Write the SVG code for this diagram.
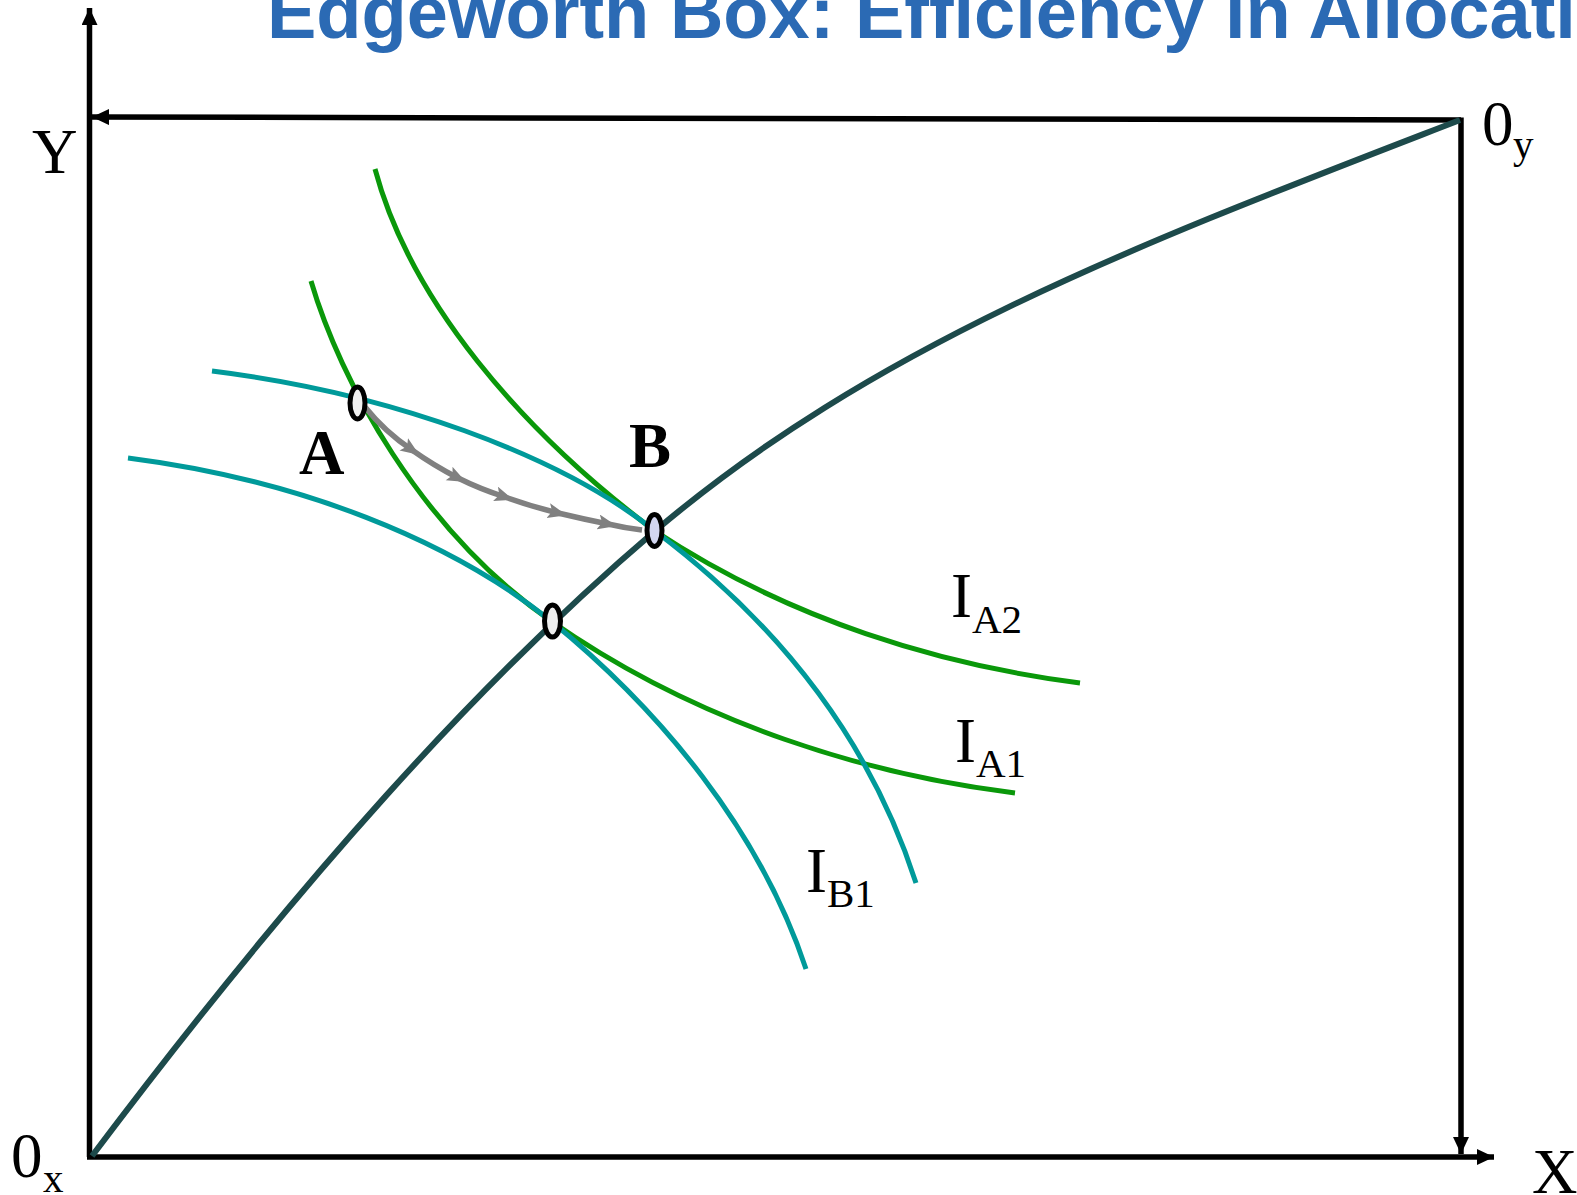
<svg xmlns="http://www.w3.org/2000/svg" width="1577" height="1195" viewBox="0 0 1577 1195">
<defs>
<marker id="ah" markerUnits="userSpaceOnUse" markerWidth="20" markerHeight="18" refX="17" refY="8" orient="auto">
<path d="M0,0 L17,8 L0,16 Z" fill="#000"/>
</marker>
<marker id="gh" markerUnits="userSpaceOnUse" markerWidth="22" markerHeight="16" refX="10" refY="7.5" orient="auto">
<path d="M0,0 L19,7.5 L0,15 L4,7.5 Z" fill="#808080"/>
</marker>
<style>
.ax{fill:none;stroke:#000;stroke-width:5.5}
.g{fill:none;stroke:#0a980a;stroke-width:5}
.t{fill:none;stroke:#009a9a;stroke-width:5}
.cc{fill:none;stroke:#1d4a4b;stroke-width:6}
.lbl{font-family:"Liberation Serif","Times New Roman",serif;font-size:63px;fill:#000}
.sub{font-size:41px}
.pt{stroke:#000;stroke-width:5}
</style>
</defs>
<text x="267" y="38" font-family="Liberation Sans, Arial, sans-serif" font-weight="bold" font-size="74" fill="#2b6ab4">Edgeworth Box: Efficiency in Allocation</text>
<g id="connectors">
<line class="ax" x1="89.5" y1="1157" x2="89.5" y2="8" marker-end="url(#ah)"/>
<line class="ax" x1="87" y1="1157" x2="1494" y2="1157" marker-end="url(#ah)"/>
<line class="ax" x1="1461" y1="120" x2="92" y2="117" marker-end="url(#ah)"/>
<line class="ax" x1="1461" y1="117.5" x2="1461" y2="1154" marker-end="url(#ah)"/>
<path id="contract" class="cc" d="M92,1156 C300,880 480,680 655,531 C880,340 1150,240 1460,120"/>
<path id="IA1" class="g" d="M311,281 C340,380 420,530 551,621 C700,725 870,775 1015,793"/>
<path id="IA2" class="g" d="M375,169 C410,300 520,430 655,531 C790,620 940,665 1080,683"/>
<path id="IB2" class="t" d="M212,371 C390,393 560,455 655,531 C780,625 870,740 916,883"/>
<path id="IB1" class="t" d="M128,458 C300,480 450,540 551,621 C660,710 760,830 806,969"/>
<path id="move" fill="none" stroke="#808080" stroke-width="5.5" marker-mid="url(#gh)" d="M365,407 Q385,432 412,450 Q433,465 458,478 Q480,489 505,497 Q530,506 558,513 Q583,519 608,524 Q625,528 642,530"/>
</g>
<g id="pointA"><ellipse class="pt" cx="357.5" cy="403" rx="7.5" ry="16" fill="#f0f0f0"/></g>
<g id="pointB"><ellipse class="pt" cx="654.5" cy="530.5" rx="7.5" ry="16" fill="#d3d6f0"/></g>
<g id="pointC"><ellipse class="pt" cx="552.5" cy="621" rx="8" ry="16" fill="#eeeeee"/></g>
<g id="labels">
<text class="lbl" x="32" y="173">Y</text>
<text class="lbl" x="1532" y="1193">X</text>
<text class="lbl" x="1482" y="145">0<tspan class="sub" x="1513" y="158">y</tspan></text>
<text class="lbl" x="11" y="1177">0<tspan class="sub" x="43" y="1192">x</tspan></text>
<text class="lbl" x="299" y="474" font-weight="bold">A</text>
<text class="lbl" x="629" y="467" font-weight="bold">B</text>
<text class="lbl" x="951" y="617">I<tspan class="sub" y="633">A2</tspan></text>
<text class="lbl" x="955" y="762">I<tspan class="sub" y="777">A1</tspan></text>
<text class="lbl" x="806" y="892">I<tspan class="sub" y="907">B1</tspan></text>
</g>
</svg>
